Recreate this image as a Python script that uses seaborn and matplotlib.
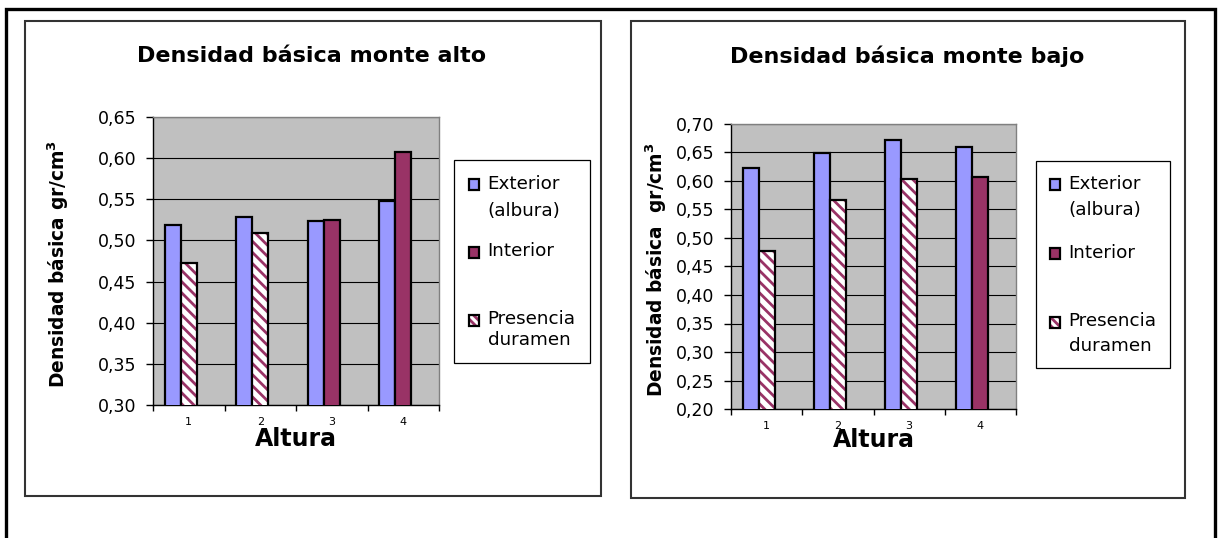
import matplotlib
matplotlib.use("Agg")
import numpy as np
import pandas as pd
import matplotlib.pyplot as plt
import seaborn as sns
from matplotlib.patches import Patch, Rectangle
from matplotlib.legend_handler import HandlerBase
from matplotlib.ticker import FuncFormatter
from matplotlib.colors import to_rgba

# ---- datos -------------------------------------------------------------
alturas = ["1", "2", "3", "4"]
capas = ["Exterior", "Interior"]
leyenda = ["Exterior\n(albura)", "Interior\n", "Presencia\nduramen"]

alto_exterior = [0.519, 0.528, 0.524, 0.548]
alto_interior = [0.473, 0.509, 0.525, 0.607]
alto_duramen = [True, True, False, False]

bajo_exterior = [0.623, 0.649, 0.672, 0.659]
bajo_interior = [0.478, 0.567, 0.604, 0.607]
bajo_duramen = [True, True, True, False]

titulos = ["Densidad básica monte alto", "Densidad básica monte bajo"]
etiquetas_y = [r"Densidad básica gr/cm$^\mathbf{3}$",
               r"Densidad básica  gr/cm$^\mathbf{3}$"]
limites_y = [(0.30, 0.65), (0.20, 0.70)]

# ---- estilo ------------------------------------------------------------
COLOR_EXT = "#9999FF"
COLOR_INT = "#993366"
FONDO = "#C0C0C0"
TRAMA = "\\\\\\"
FS_LEG = 13.2

sns.set_style("white")
plt.rcParams["font.family"] = ["DejaVu Sans"]
plt.rcParams["mathtext.fontset"] = "dejavusans"
plt.rcParams["hatch.linewidth"] = 2.0
for clave in ("text.color", "axes.labelcolor", "xtick.color", "ytick.color"):
    plt.rcParams[clave] = "black"

W, H = 1221, 538
fig = plt.figure(figsize=(W / 100, H / 100), dpi=100)


def fx(px):
    return px / W


def fy(py):
    return 1 - py / H


def caja(x0, y0, x1, y1, **kw):
    fig.add_artist(Rectangle((fx(x0), fy(y1)), fx(x1) - fx(x0), fy(y0) - fy(y1),
                             transform=fig.transFigure, fill=False, **kw))


def trama_color(p, color):
    if hasattr(p, "set_hatchcolor"):
        p.set_hatchcolor(color)
    else:
        p._hatch_color = to_rgba(color)


class CuadroSuperior(HandlerBase):
    """Cuadro de leyenda alineado con la primera línea del texto."""

    def __init__(self, interlineado):
        super().__init__()
        self.subida = 0.5 * 0.847 * interlineado + 0.375

    def create_artists(self, legend, orig_handle, xdescent, ydescent,
                       width, height, fontsize, trans):
        lado = 0.58 * fontsize
        x0 = -xdescent + (width - lado) / 2
        y0 = self.subida * fontsize - lado / 2
        r = Rectangle((x0, y0), lado, lado,
                      facecolor=orig_handle.get_facecolor(),
                      edgecolor="black", linewidth=1.6,
                      hatch=orig_handle.get_hatch(), transform=trans)
        if orig_handle.get_hatch():
            trama_color(r, COLOR_INT)
        return [r]


# marcos del documento y de cada gráfico
caja(6, 9, 1215, 560, edgecolor="black", linewidth=2.4)
caja(25, 21, 601, 496, edgecolor="#333333", linewidth=1.5)
caja(631, 21, 1185, 498, edgecolor="#333333", linewidth=1.5)

paneles = [
    dict(ejes=(153, 117, 439, 405), titulo_x=312, leg=(454, 160),
         ylab_x=-0.286, xlab_y=-0.078, interlineado=[1.66, 1.66, 1.18],
         sep=1.23, pad=0.8,
         ext=alto_exterior, inte=alto_interior, dur=alto_duramen),
    dict(ejes=(731, 124, 1016, 409), titulo_x=907, leg=(1036, 161),
         ylab_x=-0.217, xlab_y=-0.068, interlineado=[1.6, 1.6, 1.44],
         sep=1.34, pad=0.74,
         ext=bajo_exterior, inte=bajo_interior, dur=bajo_duramen),
]

for i, p in enumerate(paneles):
    x0, y0, x1, y1 = p["ejes"]
    ax = fig.add_axes([fx(x0), fy(y1), fx(x1) - fx(x0), fy(y0) - fy(y1)])

    df = pd.DataFrame({
        "Altura": alturas * 2,
        "capa": [capas[0]] * 4 + [capas[1]] * 4,
        "densidad": p["ext"] + p["inte"],
    })
    # tercer hueco reservado en cada grupo (serie sin barras)
    sns.barplot(data=df, x="Altura", y="densidad", hue="capa",
                hue_order=capas + ["hueco"],
                palette={"Exterior": COLOR_EXT, "Interior": COLOR_INT,
                         "hueco": "white"},
                width=0.672, saturation=1, edgecolor="black", linewidth=1.6,
                errorbar=None, legend=False, ax=ax, zorder=3)

    for barra, duramen in zip(ax.containers[1], p["dur"]):
        if duramen:
            barra.set_facecolor("white")
            barra.set_hatch(TRAMA)
            trama_color(barra, COLOR_INT)

    lo, hi = limites_y[i]
    ax.set_ylim(lo, hi)
    ax.set_yticks(np.round(np.arange(lo, hi + 1e-9, 0.05), 2))
    ax.yaxis.set_major_formatter(FuncFormatter(lambda v, _: f"{v:.2f}".replace(".", ",")))
    ax.set_facecolor(FONDO)
    ax.yaxis.grid(True, color="black", linewidth=0.8)
    ax.set_axisbelow(True)

    ax.set_xlim(-0.5, 3.5)
    ax.set_xticks([-0.5, 0.5, 1.5, 2.5, 3.5], labels=[""] * 5)
    ax.set_xticks(range(4), labels=alturas, minor=True)
    ax.tick_params(axis="x", which="major", direction="out", length=4,
                   width=1, color="black", bottom=True)
    ax.tick_params(axis="x", which="minor", length=0, pad=8.5, labelsize=8)
    ax.tick_params(axis="y", direction="out", length=5, width=1,
                   color="black", left=True, pad=7, labelsize=12.5)

    for lado in ("top", "right"):
        ax.spines[lado].set_color("#808080")
        ax.spines[lado].set_linewidth(1.0)
    for lado in ("left", "bottom"):
        ax.spines[lado].set_color("black")
        ax.spines[lado].set_linewidth(1.0)

    ax.set_ylabel(etiquetas_y[i], fontsize=13.4, fontweight="bold")
    ax.yaxis.set_label_coords(p["ylab_x"], 0.49)
    ax.set_xlabel("Altura", fontsize=17, fontweight="bold")
    ax.xaxis.set_label_coords(0.5, p["xlab_y"])

    fig.text(fx(p["titulo_x"]), fy(56), titulos[i], ha="center", va="center",
             fontsize=16, fontweight="bold")

    manijas = [Patch(facecolor=COLOR_EXT), Patch(facecolor=COLOR_INT),
               Patch(facecolor="white", hatch="\\\\\\\\")]
    manejadores = {m: CuadroSuperior(ls) for m, ls in zip(manijas, p["interlineado"])}
    lx, ly = p["leg"]
    leg = ax.legend(manijas, leyenda, loc="upper left",
                    bbox_to_anchor=(fx(lx), fy(ly)), bbox_transform=fig.transFigure,
                    borderaxespad=0, fontsize=FS_LEG, frameon=True, fancybox=False,
                    framealpha=1, edgecolor="black", borderpad=p["pad"],
                    handlelength=0.6, handletextpad=0.44, labelspacing=p["sep"],
                    handler_map=manejadores)
    leg.get_frame().set_linewidth(0.9)
    for t, ls in zip(leg.get_texts(), p["interlineado"]):
        t.set_linespacing(ls)

fig.savefig("out.png", dpi=100)
